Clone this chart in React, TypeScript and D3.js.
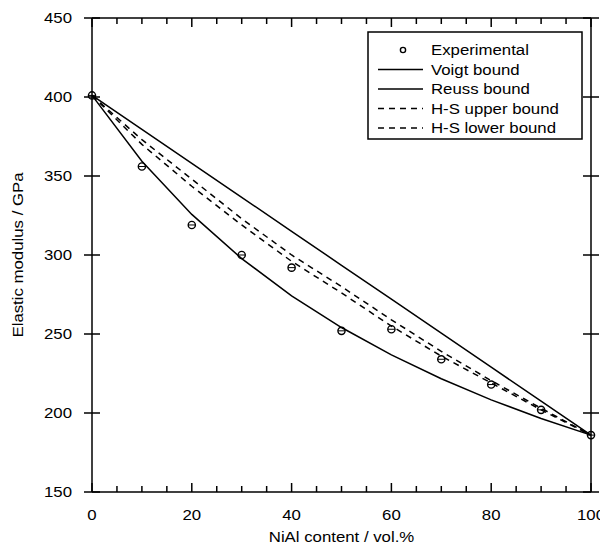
import React from "react";
import * as d3 from "d3";

const xVals = [0, 10, 20, 30, 40, 50, 60, 70, 80, 90, 100];
const experimental = [401, 356, 319, 300, 292, 252, 253, 234, 218, 202, 186];
const voigt = [401, 379.5, 358, 336.5, 315, 293.5, 272, 250.5, 229, 207.5, 186];
const reuss = [401, 359.4, 325.7, 297.7, 274.2, 254.1, 236.8, 221.7, 208.3, 196.5, 186];
const hsUpper = [401, 373, 348, 323, 300, 280, 259, 239, 220.5, 203, 186];
const hsLower = [401, 370, 343.5, 319, 296, 276, 255, 236, 219, 202, 186];

const xMajor = [0, 20, 40, 60, 80, 100];
const xMinor = d3.range(0, 101, 5);
const yMajor = [150, 200, 250, 300, 350, 400, 450];

const legendItems = [
  { label: "Experimental", kind: "marker" },
  { label: "Voigt bound", kind: "solid" },
  { label: "Reuss bound", kind: "solid" },
  { label: "H-S upper bound", kind: "dash" },
  { label: "H-S lower bound", kind: "dash" },
];

const W = 600, H = 547;
const L = 92, R = 591, T = 18, B = 492;
const FONT = "'Liberation Sans', Arial, sans-serif";
const FS = 15;
const SX = 1.12;

export default function App() {
  const x = d3.scaleLinear().domain([0, 100]).range([L, R]);
  const y = d3.scaleLinear().domain([150, 450]).range([B, T]);
  const line = (vals: number[]) =>
    d3.line<number>().x((_, i) => x(xVals[i])).y((v) => y(v))(vals) || "";

  const Txt = ({ tx, ty, anchor, children, rotate }: any) => (
    <text
      transform={`translate(${tx},${ty})${rotate ? ` rotate(${rotate})` : ""} scale(${SX},1)`}
      textAnchor={anchor}
      dominantBaseline="central"
      fontFamily={FONT}
      fontSize={FS}
      fill="#000"
    >
      {children}
    </text>
  );

  const lgX = 368, lgY = 32, lgW = 214, lgH = 107;
  const rowY = (i: number) => 50 + i * 19.5;

  return (
    <svg width={W} height={H} style={{ position: "absolute", left: 0, top: 0 }}>
      <rect x={0} y={0} width={W} height={H} fill="#fff" />
      {/* curves */}
      <g fill="none" stroke="#000">
        <path d={line(voigt)} strokeWidth={1.5} />
        <path d={line(reuss)} strokeWidth={1.5} />
        <path d={line(hsUpper)} strokeWidth={1.5} strokeDasharray="6,5" />
        <path d={line(hsLower)} strokeWidth={1.5} strokeDasharray="6,5" />
      </g>
      {/* experimental points */}
      <g fill="none" stroke="#000" strokeWidth={1.4}>
        {experimental.map((v, i) => (
          <g key={i}>
            <circle cx={x(xVals[i])} cy={y(v)} r={3.6} />
            <line x1={x(xVals[i]) - 3.5} x2={x(xVals[i]) + 3.5} y1={y(v)} y2={y(v)} strokeWidth={1} />
          </g>
        ))}
      </g>
      {/* frame */}
      <g stroke="#000" strokeWidth={1.5} fill="none">
        <line x1={L} x2={R} y1={B} y2={B} />
        <line x1={L} x2={R} y1={T} y2={T} />
        <line x1={L} x2={L} y1={T} y2={B} />
        <line x1={R} x2={R} y1={T} y2={B} />
        {xMinor.map((v) => {
          const len = xMajor.includes(v) ? 9 : 6;
          return (
            <g key={v}>
              <line x1={x(v)} x2={x(v)} y1={B} y2={B - len} />
              <line x1={x(v)} x2={x(v)} y1={T} y2={T + len} />
            </g>
          );
        })}
        {yMajor.map((v) => (
          <g key={v}>
            <line x1={L - 8} x2={L + 8} y1={y(v)} y2={y(v)} />
            <line x1={R - 8} x2={R + 8} y1={y(v)} y2={y(v)} />
          </g>
        ))}
      </g>
      {/* tick labels */}
      {xMajor.map((v) => (
        <Txt key={v} tx={x(v)} ty={B + 23} anchor="middle">{v}</Txt>
      ))}
      {yMajor.map((v) => (
        <Txt key={v} tx={L - 20} ty={y(v)} anchor="end">{v}</Txt>
      ))}
      {/* axis titles */}
      <Txt tx={(L + R) / 2} ty={537} anchor="middle">NiAl content / vol.%</Txt>
      <Txt tx={18} ty={(T + B) / 2} anchor="middle" rotate={-90}>Elastic modulus / GPa</Txt>
      {/* legend */}
      <rect x={lgX} y={lgY} width={lgW} height={lgH} fill="#fff" stroke="#000" strokeWidth={1.5} />
      {legendItems.map((it, i) => (
        <g key={it.label}>
          {it.kind === "marker" ? (
            <circle cx={403} cy={rowY(i)} r={2.6} fill="none" stroke="#000" strokeWidth={1.4} />
          ) : (
            <line
              x1={378}
              x2={423}
              y1={rowY(i)}
              y2={rowY(i)}
              stroke="#000"
              strokeWidth={1.5}
              strokeDasharray={it.kind === "dash" ? "6,5" : undefined}
            />
          )}
          <text
            transform={`translate(431,${rowY(i)}) scale(${SX},1)`}
            dominantBaseline="central"
            fontFamily={FONT}
            fontSize={FS}
          >
            {it.label}
          </text>
        </g>
      ))}
    </svg>
  );
}
